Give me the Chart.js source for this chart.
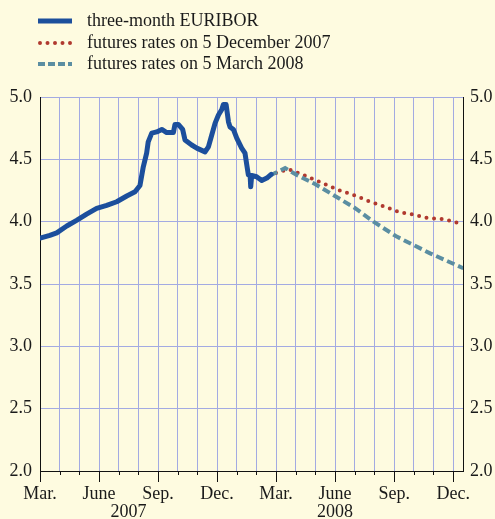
<!DOCTYPE html>
<html>
<head>
<meta charset="utf-8">
<script src="https://cdn.jsdelivr.net/npm/chart.js@4.4.0/dist/chart.umd.min.js"></script>
<style>
  html, body { margin: 0; padding: 0; background: #fefbe0; }
</style>
</head>
<body>
<canvas id="euriborChart" width="495" height="519"></canvas>
<script>
// x values are months since 1 March 2007
const quarterLabels = ['Mar.', 'June', 'Sep.', 'Dec.'];
const yearLabels = [{ text: '2007', month: 4.5 }, { text: '2008', month: 15 }];
const monthTicks = Array.from({ length: 22 }, (_, i) => i);

const euriborMonths = [0.05, 0.5, 0.85, 1.36, 1.86, 2.37, 2.88, 3.39, 3.9, 4.41, 4.83, 5.08, 5.25, 5.42,
  5.5, 5.68, 5.93, 6.19, 6.44, 6.78, 6.86, 7.03, 7.25, 7.37, 7.71, 7.97, 8.39, 8.56, 8.73, 8.9,
  9.07, 9.24, 9.32, 9.46, 9.58, 9.66, 9.83, 10.0, 10.25, 10.42, 10.51, 10.59, 10.68, 10.71, 10.76,
  11.01, 11.27, 11.53, 11.75];
const euriborRates = [3.87, 3.89, 3.91, 3.965, 4.01, 4.06, 4.107, 4.13, 4.16, 4.206, 4.24, 4.29, 4.44, 4.55,
  4.64, 4.71, 4.72, 4.74, 4.715, 4.715, 4.78, 4.78, 4.74, 4.655, 4.615, 4.59, 4.56, 4.60, 4.695, 4.79,
  4.856, 4.90, 4.94, 4.94, 4.80, 4.76, 4.74, 4.67, 4.59, 4.55, 4.455, 4.375, 4.37, 4.28, 4.37,
  4.36, 4.33, 4.35, 4.38];

const decFuturesMonths = [12.0, 12.63, 13.39, 14.49, 15.25, 16.0, 16.78, 17.54, 18.3, 18.9, 19.66, 20.5, 21.27, 21.5];
const decFuturesRates = [4.39, 4.42, 4.375, 4.30, 4.25, 4.21, 4.16, 4.12, 4.075, 4.06, 4.03, 4.02, 3.99, 3.99];

const marFuturesMonths = [11.69, 12.46, 13.05, 14.0, 14.74, 16.0, 16.95, 18.13, 19.83, 21.52];
const marFuturesRates = [4.37, 4.43, 4.375, 4.30, 4.23, 4.11, 4.0, 3.88, 3.746, 3.626];

const bgColour = '#fefbe0';
const gridColour = '#a3aae2';
const textColour = '#1a1a1a';
const serif = "'Liberation Serif', 'Times New Roman', serif";

function toPoints(xs, ys) {
  return xs.map((x, i) => ({ x: x, y: ys[i] }));
}

const datasets = [
  {
    label: 'three-month EURIBOR',
    data: toPoints(euriborMonths, euriborRates),
    borderColor: '#1c4f9c',
    borderWidth: 5,
    borderJoinStyle: 'round',
    borderCapStyle: 'round',
    legendDash: [],
    order: 0
  },
  {
    label: 'futures rates on 5 December 2007',
    data: toPoints(decFuturesMonths, decFuturesRates),
    borderColor: '#b0392f',
    borderWidth: 4,
    borderCapStyle: 'round',
    borderDash: [0, 7.6],
    legendDash: [0, 7.5],
    order: 2
  },
  {
    label: 'futures rates on 5 March 2008',
    data: toPoints(marFuturesMonths, marFuturesRates),
    borderColor: '#5b8ea2',
    borderWidth: 4,
    borderDash: [8, 4],
    legendDash: [7, 3],
    order: 1
  }
];

// page background
const backgroundPlugin = {
  id: 'background',
  beforeDraw(chart) {
    const ctx = chart.ctx;
    ctx.save();
    ctx.fillStyle = bgColour;
    ctx.fillRect(0, 0, chart.width, chart.height);
    ctx.restore();
  }
};

// legend with line styles at the top left
const legendPlugin = {
  id: 'lineLegend',
  afterDraw(chart) {
    const ctx = chart.ctx;
    const rows = [21, 43, 64];
    ctx.save();
    chart.data.datasets.forEach((ds, i) => {
      const y = rows[i];
      const dotted = ds.legendDash.length && ds.legendDash[0] === 0;
      ctx.beginPath();
      ctx.strokeStyle = ds.borderColor;
      ctx.lineWidth = ds.borderWidth;
      ctx.lineCap = dotted ? 'round' : 'butt';
      ctx.setLineDash(ds.legendDash);
      if (dotted) {
        ctx.moveTo(40, y);
        ctx.lineTo(71, y);
      } else {
        ctx.moveTo(38, y);
        ctx.lineTo(72, y);
      }
      ctx.stroke();
      ctx.setLineDash([]);
      ctx.fillStyle = textColour;
      ctx.font = '18px ' + serif;
      ctx.textBaseline = 'middle';
      ctx.textAlign = 'left';
      ctx.fillText(ds.label, 87, y);
    });
    ctx.restore();
  }
};

// monthly tick marks (long ones at quarters) and year labels
const monthTickPlugin = {
  id: 'monthTicks',
  afterDraw(chart) {
    const ctx = chart.ctx;
    const x = chart.scales.x;
    const bottom = chart.chartArea.bottom;
    ctx.save();
    ctx.strokeStyle = '#111';
    ctx.lineWidth = 1;
    monthTicks.forEach(m => {
      const px = Math.round(x.getPixelForValue(m)) + 0.5;
      ctx.beginPath();
      ctx.moveTo(px, bottom);
      ctx.lineTo(px, bottom + (m % 3 === 0 ? 11 : 4));
      ctx.stroke();
    });
    ctx.fillStyle = textColour;
    ctx.font = '18px ' + serif;
    ctx.textAlign = 'center';
    ctx.textBaseline = 'middle';
    yearLabels.forEach(y => {
      ctx.fillText(y.text, x.getPixelForValue(y.month), 512);
    });
    ctx.restore();
  }
};

new Chart(document.getElementById('euriborChart'), {
  type: 'line',
  data: { datasets: datasets },
  options: {
    responsive: false,
    animation: false,
    devicePixelRatio: 1,
    layout: { padding: { top: 97, left: 0, right: 0, bottom: 0 } },
    elements: {
      point: { radius: 0 },
      line: { tension: 0, fill: false }
    },
    plugins: {
      legend: { display: false },
      tooltip: { enabled: false }
    },
    scales: {
      x: {
        type: 'linear',
        min: 0,
        max: 21.5,
        afterBuildTicks: s => { s.ticks = monthTicks.map(v => ({ value: v })); },
        afterFit: s => { s.height = 48; },
        grid: { color: gridColour, lineWidth: 1, drawTicks: false },
        border: { color: '#111', width: 1 },
        ticks: {
          autoSkip: false,
          maxRotation: 0,
          padding: 12,
          color: textColour,
          font: { family: serif, size: 18 },
          callback: v => (v % 3 === 0 ? quarterLabels[(v / 3) % 4] : '')
        }
      },
      y: {
        position: 'left',
        min: 2,
        max: 5,
        afterFit: s => { s.width = 40; },
        grid: { color: gridColour, lineWidth: 1, drawTicks: false },
        border: { color: '#111', width: 1 },
        ticks: {
          stepSize: 0.5,
          padding: 8,
          color: textColour,
          font: { family: serif, size: 18 },
          callback: v => v.toFixed(1)
        }
      },
      y2: {
        position: 'right',
        min: 2,
        max: 5,
        afterFit: s => { s.width = 32; },
        grid: { display: false, drawTicks: false },
        border: { color: '#111', width: 1 },
        ticks: {
          stepSize: 0.5,
          padding: 7,
          color: textColour,
          font: { family: serif, size: 18 },
          callback: v => v.toFixed(1)
        }
      }
    }
  },
  plugins: [backgroundPlugin, legendPlugin, monthTickPlugin]
});
</script>
</body>
</html>
